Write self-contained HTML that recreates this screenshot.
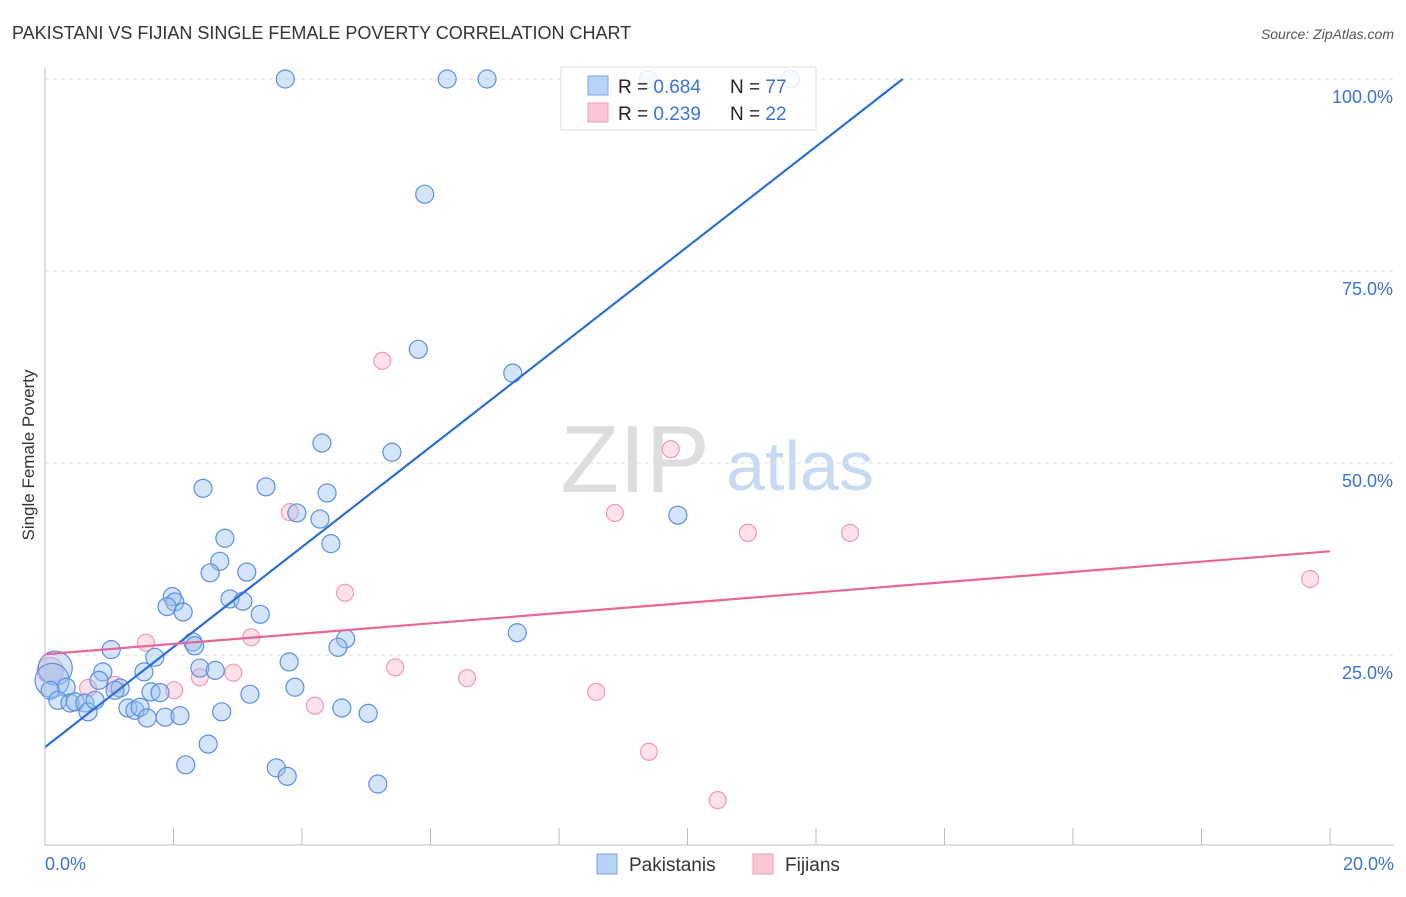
<!DOCTYPE html>
<html><head><meta charset="utf-8"><style>
body{margin:0;background:#fff;font-family:"Liberation Sans",sans-serif}
svg text{font-family:"Liberation Sans",sans-serif}
</style></head><body>
<svg id="c" width="1406" height="892" xmlns="http://www.w3.org/2000/svg">
<text x="12" y="39" font-size="18" fill="#333">PAKISTANI VS FIJIAN SINGLE FEMALE POVERTY CORRELATION CHART</text>
<text x="1394" y="39" font-size="14" fill="#555" font-style="italic" text-anchor="end">Source: ZipAtlas.com</text>
<text x="635" y="492" font-size="96" fill="#ddd" font-family="Liberation Serif" text-anchor="middle">ZIP</text>
<text x="800" y="490" font-size="70" fill="#c8daf2" text-anchor="middle">atlas</text>
<text transform="translate(34,455) rotate(-90)" font-size="17" fill="#333" text-anchor="middle">Single Female Poverty</text>
<g id="grid"></g><g id="pts"></g><g id="lines"></g>
<line x1="45" y1="68" x2="45" y2="846" stroke="#bbb"/>
<line x1="45" y1="845" x2="1394" y2="845" stroke="#bbb"/>
<text x="45" y="870" font-size="18" fill="#3b73d6">0.0%</text>
<text x="1394" y="870" font-size="18" fill="#3b73d6" text-anchor="end">20.0%</text>
<g>
<rect x="561" y="67" width="255" height="63" fill="rgba(255,255,255,0.85)" stroke="#ddd"/>
<rect x="588" y="76" width="20" height="19" fill="#b8d3f5" stroke="#7aa6e6"/>
<rect x="588" y="103" width="20" height="19" fill="#f9c8d6" stroke="#ee9bb3"/>
<text x="618" y="93" font-size="19" fill="#222">R = <tspan fill="#3b73d6">0.684</tspan></text>
<text x="730" y="93" font-size="19" fill="#222">N = <tspan fill="#3b73d6">77</tspan></text>
<text x="618" y="120" font-size="19" fill="#222">R = <tspan fill="#3b73d6"> 0.239</tspan></text>
<text x="730" y="120" font-size="19" fill="#222">N = <tspan fill="#3b73d6">22</tspan></text>
</g>
<g>
<rect x="597" y="854" width="20" height="20" fill="#b8d3f5" stroke="#7aa6e6"/>
<text x="629" y="871" font-size="19" fill="#333">Pakistanis</text>
<rect x="753" y="854" width="20" height="20" fill="#f9c8d6" stroke="#ee9bb3"/>
<text x="785" y="871" font-size="19" fill="#333">Fijians</text>
</g>
</svg>
<script>
const yTicks=[25,50,75,100];
const yTickLabels=["25.0%","50.0%","75.0%","100.0%"];
const xTicks=[0,2,4,6,8,10,12,14,16,18,20];
const pakX=[3.74,6.26,6.88,9.39,11.6,5.91,5.81,7.28,4.31,5.40,2.46,3.44,4.39,3.92,4.28,9.85,4.45,2.80,2.72,2.57,3.14,1.98,2.02,1.90,2.15,2.88,3.08,3.35,7.35,4.68,4.56,2.30,2.33,1.03,1.71,3.80,2.41,2.65,0.90,1.54,0.84,0.16,0.11,0.33,1.17,1.09,1.65,1.79,3.19,3.89,0.08,0.20,0.39,0.47,0.62,0.67,0.78,1.29,1.40,1.48,1.59,1.87,2.10,2.75,4.62,5.03,2.54,2.19,3.60,3.77,5.18];
const pakY=[100,100,100,100,100,85.0,64.8,61.7,52.6,51.4,46.7,46.9,46.1,43.5,42.7,43.2,39.5,40.2,37.2,35.7,35.8,32.6,31.9,31.3,30.6,32.3,32.0,30.3,27.9,27.1,26.0,26.7,26.2,25.7,24.7,24.1,23.3,23.0,22.8,22.8,21.7,23.3,21.7,20.8,20.7,20.4,20.2,20.1,19.9,20.8,20.4,19.1,18.75,18.9,18.75,17.6,19.1,18.1,17.8,18.2,16.8,16.9,17.1,17.6,18.1,17.4,13.4,10.7,10.3,9.2,8.2];
const fijX=[5.25,9.74,3.81,8.87,10.94,12.53,19.69,4.67,1.57,3.21,5.45,2.93,2.41,2.01,1.09,6.57,8.58,4.20,9.40,10.47,0.08,0.67];
const fijY=[63.3,51.8,43.6,43.5,40.9,40.9,34.9,33.1,26.6,27.3,23.4,22.7,22.1,20.4,21.1,22.0,20.2,18.4,12.4,6.1,23.0,20.7];
const pakLine=[13.0,100];const pakLineX=[0,13.35];
const fijLine=[25.1,38.5];const fijLineX=[0,20];
const NS="http://www.w3.org/2000/svg";
const sx=v=>45+v*64.25, sy=v=>847-v*7.68;
function mk(t,a,p){const e=document.createElementNS(NS,t);for(const k in a)e.setAttribute(k,a[k]);p.appendChild(e);return e;}
const g=document.getElementById('grid');
yTicks.forEach((v,i)=>{
 const l=mk('line',{x1:45,x2:1394,y1:sy(v),y2:sy(v),stroke:'#ddd','stroke-dasharray':'4,4'},g);
 
 
 const t=mk('text',{x:1393,y:sy(v)+24,'font-size':18,fill:'#3b73d6','text-anchor':'end'},g);
 t.textContent=yTickLabels[i];
 
 
});
xTicks.forEach(v=>{
 const l=mk('line',{x1:sx(v),x2:sx(v),y1:828,y2:845,stroke:'#bbb'},g);
 
 
});
const P=document.getElementById('pts');
fijX.forEach((x,i)=>{
 const r=(x<0.1)?13:8.5;
 const c=mk('circle',{cx:sx(x),cy:sy(fijY[i]),r:r,fill:'rgba(248,180,200,0.4)',stroke:'#f09ab4','stroke-width':1.2},P);
 
 
});
pakX.forEach((x,i)=>{
 const r=(x<0.2&&pakY[i]>21)?17:9;
 const c=mk('circle',{cx:sx(x),cy:sy(pakY[i]),r:r,fill:'rgba(150,190,240,0.4)',stroke:'#5b8fe0','stroke-width':1.2},P);
 
 
});
const L=document.getElementById('lines');
const bl=mk('line',{x1:sx(pakLineX[0]),y1:sy(pakLine[0]),x2:sx(pakLineX[1]),y2:sy(pakLine[1]),stroke:'#2a6fd6','stroke-width':2.2},L);


const pl=mk('line',{x1:sx(fijLineX[0]),y1:sy(fijLine[0]),x2:sx(fijLineX[1]),y2:sy(fijLine[1]),stroke:'#e8679a','stroke-width':2.2},L);


</script>
</body></html>
